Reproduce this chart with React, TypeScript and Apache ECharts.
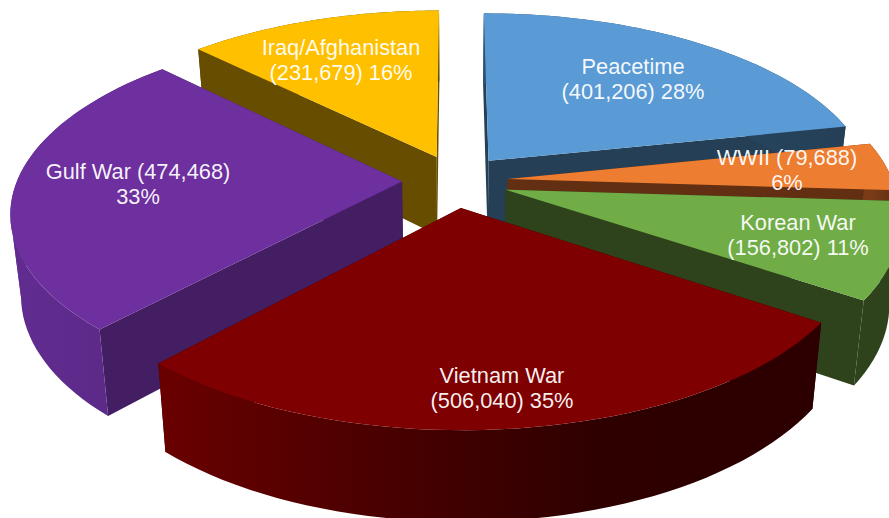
import React, { useEffect, useRef } from "react";
import * as echarts from "echarts";

const categories = ["Iraq/Afghanistan", "Peacetime", "Gulf War", "WWII", "Korean War", "Vietnam War"];
// clockwise order from 12 o'clock, used to derive each wedge's angles
const pieOrder = ["Peacetime", "WWII", "Korean War", "Vietnam War", "Gulf War", "Iraq/Afghanistan"];
const pieValues = [401206, 79688, 156802, 506040, 474468, 231679];
const labelLines: Record<string, string> = {
  Peacetime: "Peacetime\n(401,206) 28%",
  WWII: "WWII (79,688)\n6%",
  "Korean War": "Korean War\n(156,802) 11%",
  "Vietnam War": "Vietnam War\n(506,040) 35%",
  "Gulf War": "Gulf War (474,468)\n33%",
  "Iraq/Afghanistan": "Iraq/Afghanistan\n(231,679) 16%",
};
const topColors: Record<string, string> = {
  Peacetime: "#5B9BD5", WWII: "#ED7D31", "Korean War": "#70AD47",
  "Vietnam War": "#7F0000", "Gulf War": "#6E2F9F", "Iraq/Afghanistan": "#FFC000",
};
const faceColors: Record<string, string> = {
  Peacetime: "#243F56", WWII: "#632F13", "Korean War": "#2E431C",
  "Vietnam War": "#300000", "Gulf War": "#431E63", "Iraq/Afghanistan": "#664D00",
};
const rimColors: Record<string, string[]> = {
  Peacetime: ["#2E5272", "#243F56"], WWII: ["#7A3C17", "#632F13"], "Korean War": ["#2E431C", "#2E431C"],
  "Vietnam War": ["#6A0000", "#4A0000", "#2E0000", "#2C0000"], "Gulf War": ["#612C90", "#5A2986"], "Iraq/Afghanistan": ["#664D00", "#664D00"],
};
const labelAnchors: Record<string, [number, number]> = {
  Peacetime: [633, 79], WWII: [787, 170], "Korean War": [798, 235],
  "Vietnam War": [502, 388], "Gulf War": [138, 184], "Iraq/Afghanistan": [341, 60],
};
const explodeSideways: Record<string, number> = {
  Peacetime: 0.145, WWII: 0.14, "Korean War": 0.14, "Vietnam War": 0.15, "Gulf War": 0.135, "Iraq/Afghanistan": 0.12,
};

const CX = 454, CY = 181, SX = 385, SY = 177, PERSP = 0.16, EXPLODE = 0.15;
const total = pieValues.reduce((a, b) => a + b, 0);

function wedgeAngles(name: string): [number, number] {
  let acc = 0;
  for (let i = 0; i < pieOrder.length; i++) {
    const next = acc + pieValues[i];
    if (pieOrder[i] === name) return [(acc / total) * Math.PI * 2, (next / total) * Math.PI * 2];
    acc = next;
  }
  return [0, 0];
}

function project(u: number, v: number): [number, number] {
  const w = 1 + PERSP * v;
  return [CX + (SX * u) / w, CY - (SY * v) / w];
}
function lower(p: [number, number]): [number, number] {
  const depth = 78 + (p[1] - 157) * 0.05;
  return [CX + (p[0] - CX) * 0.976, p[1] + depth];
}

function App() {
  const ref = useRef<HTMLDivElement>(null);
  useEffect(() => {
    const chart = echarts.init(ref.current!, undefined, { renderer: "svg" });
    const renderWedge = (params: any, api: any) => {
      const name = categories[params.dataIndex];
      const [a0, a1] = wedgeAngles(name);
      const mid = (a0 + a1) / 2;
      const ou = explodeSideways[name] * Math.sin(mid), ov = EXPLODE * Math.cos(mid);
      const apex = project(ou, ov);
      const arc: [number, number][] = [];
      const steps = 48;
      for (let i = 0; i <= steps; i++) {
        const t = a0 + ((a1 - a0) * i) / steps;
        arc.push(project(ou + Math.sin(t), ov + Math.cos(t)));
      }
      const arcLow = arc.map(lower);
      const apexLow = lower(apex);
      const first = arc[0], last = arc[steps];
      const face = faceColors[name];
      const xs = arc.map((p) => p[0]);
      const minX = Math.min(...xs), maxX = Math.max(...xs);
      const stops = rimColors[name].map((color, i, all) => ({ offset: i / (all.length - 1), color }));
      const fill = new echarts.graphic.LinearGradient(minX, 0, maxX, 0, stops, true);
      // split the rim where it turns back in x, so that no polygon folds over itself
      const cuts = [0, xs.indexOf(minX), xs.indexOf(maxX), steps]
        .filter((v, i, all) => all.indexOf(v) === i)
        .sort((p, q) => p - q);
      const rimParts = [];
      for (let i = 0; i + 1 < cuts.length; i++) {
        const from = cuts[i], to = cuts[i + 1] + 1;
        rimParts.push({
          type: "polygon",
          shape: { points: [...arc.slice(from, to), ...arcLow.slice(from, to).reverse()] },
          style: { fill },
        });
      }
      return {
        type: "group",
        children: [
          { type: "polygon", shape: { points: [apex, first, arcLow[0], apexLow] }, style: { fill: face } },
          { type: "polygon", shape: { points: [apex, last, arcLow[steps], apexLow] }, style: { fill: face } },
          ...rimParts,
          { type: "polygon", shape: { points: [apex, ...arc] }, style: { fill: topColors[name] } },
        ],
      };
    };
    const renderLabel = (params: any, api: any) => {
      const name = categories[params.dataIndex];
      const [x, y] = labelAnchors[name];
      return {
        type: "text",
        x, y,
        style: {
          text: labelLines[name],
          fill: "#FFFFFF",
          font: "21.8px 'Liberation Sans', Arial, sans-serif",
          lineHeight: 25,
          align: "center",
          verticalAlign: "middle",
          opacity: 0.95,
        },
      };
    };
    const seriesData = categories.map((c) => pieValues[pieOrder.indexOf(c)]);
    chart.setOption({
      animation: false,
      backgroundColor: "#FFFFFF",
      series: [
        { type: "custom", coordinateSystem: "none", renderItem: renderWedge, data: seriesData, z: 2, silent: true },
        { type: "custom", coordinateSystem: "none", renderItem: renderLabel, data: seriesData, z: 3, silent: true },
      ],
    });
    return () => chart.dispose();
  }, []);
  return <div ref={ref} style={{ position: "fixed", left: 0, top: 0, width: 889, height: 518 }} />;
}

export default App;
